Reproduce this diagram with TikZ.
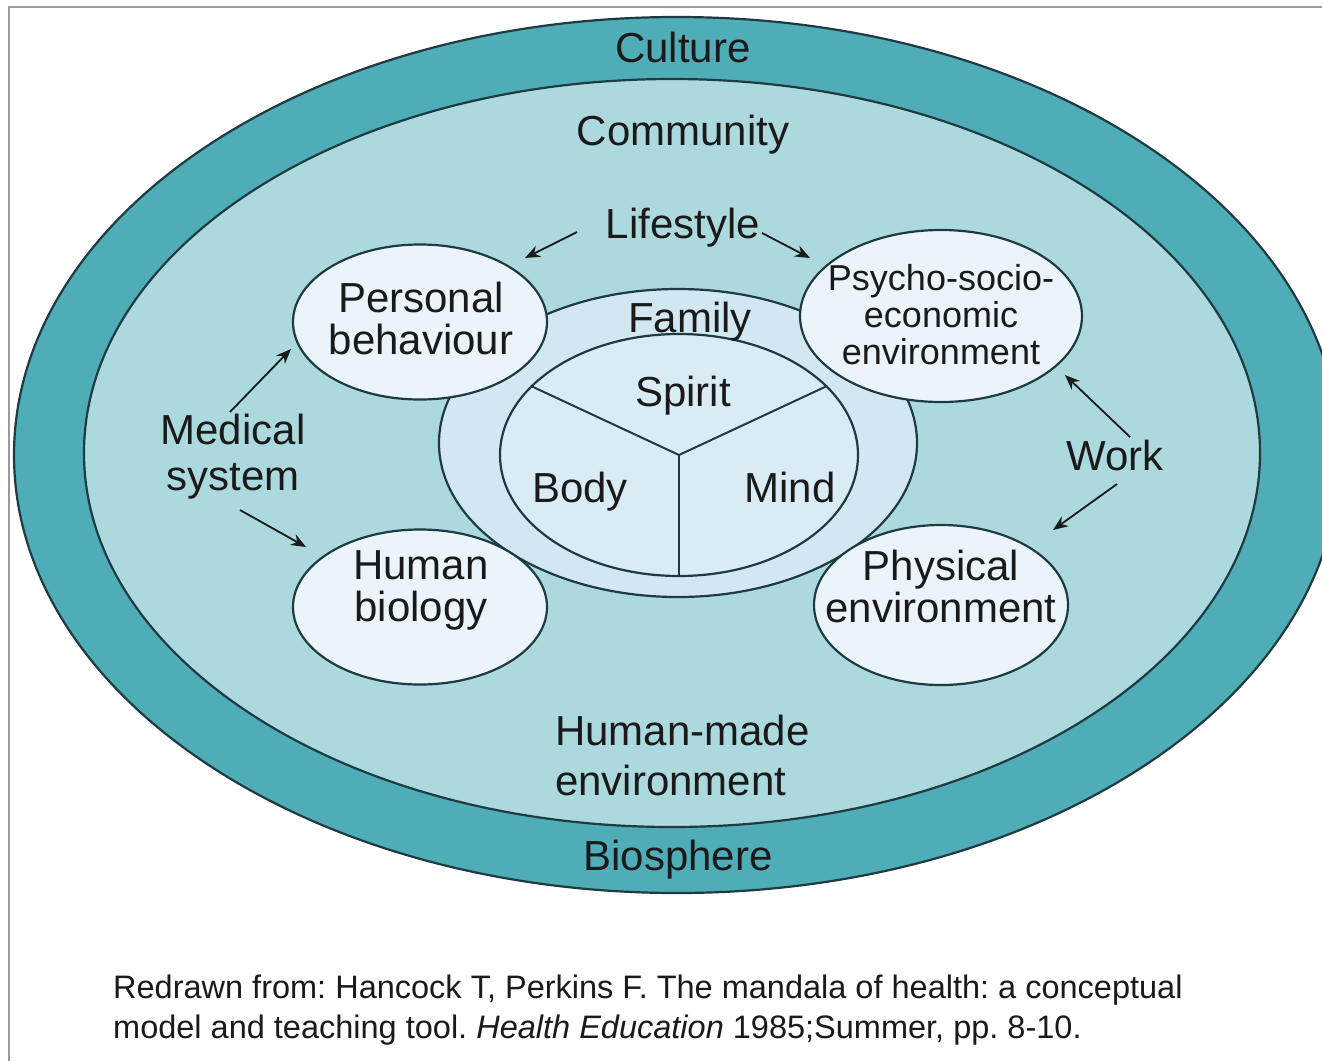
\documentclass[tikz,border=0pt]{standalone}
\usepackage{fontspec}
\setmainfont{Liberation Sans}
\usetikzlibrary{shapes.geometric,arrows.meta}
\definecolor{bandteal}{HTML}{4FADB7}
\definecolor{commfill}{HTML}{ABD9DD}
\definecolor{famfill}{HTML}{D2E7F2}
\definecolor{innerfill}{HTML}{D9EBF5}
\definecolor{satfill}{HTML}{EAF4FA}
\definecolor{edge}{HTML}{1E3B42}
\definecolor{ink}{HTML}{1A1A1A}
\definecolor{framegray}{HTML}{9A9A9A}
\tikzset{
  ring/.style={ellipse, draw=edge, line width=2.2pt, inner sep=0pt},
  sat/.style={ring, fill=satfill, minimum width=254pt, minimum height=155pt},
  lbl/.style={font=\fontsize{42}{42}\selectfont, text=ink, align=center, inner sep=0pt},
  small/.style={font=\fontsize{36}{37}\selectfont, text=ink, align=center, inner sep=0pt},
  arr/.style={>={Stealth[length=15pt,width=12pt]}, ->, line width=1.8pt, draw=ink},
}
\begin{document}
\frenchspacing
\begin{tikzpicture}[x=1pt,y=-1pt]
\clip (0,0) rectangle (1322,1061);
\fill[white] (0,0) rectangle (1322,1061);
\draw[framegray, line width=2pt] (9,1061) -- (9,7) -- (1322,7);
% the rings
\node[ring, fill=bandteal, minimum width=1326pt, minimum height=876pt] (culture) at (677,455) {};
\node[ring, fill=commfill, minimum width=1176pt, minimum height=748pt] (community) at (672,453) {};
\node[ring, fill=famfill, minimum width=478pt, minimum height=308pt] (family) at (678,443) {};
\node[ring, fill=innerfill, minimum width=358pt, minimum height=242pt] (self) at (679,455) {};
\draw[edge, line width=2pt] (self.center) -- (self.155);
\draw[edge, line width=2pt] (self.center) -- (self.25);
\draw[edge, line width=2pt] (self.center) -- (self.south);
% the four ellipses round the family
\node[sat] (behav) at (420,322) {};
\node[sat] (biol) at (420,607) {};
\node[sat, minimum width=282pt, minimum height=172pt] (psych) at (941,316) {};
\node[sat, minimum height=160pt] (phys) at (941,605) {};
% labels
\node[lbl, anchor=base] (cult) at (683,62) {Culture};
\node[lbl, anchor=base] (comm) at (683,145) {Community};
\node[lbl, anchor=base] (life) at (683,238) {Lifestyle};
\node[lbl, anchor=base] (fam) at (690,332) {Family};
\node[lbl, anchor=base] (spirit) at (683,406) {Spirit};
\node[lbl, anchor=base] (body) at (580,502) {Body};
\node[lbl, anchor=base] (mind) at (790,502) {Mind};
\node[lbl, anchor=base] (work) at (1115,470) {Work};
\node[lbl, font=\fontsize{42}{46}\selectfont] (med) at (233,457) {Medical\\system};
\node[lbl] (behavtxt) at (421,318) {Personal\\behaviour};
\node[lbl] (bioltxt) at (421,590) {Human\\biology};
\node[small] (psychtxt) at (941,315) {Psycho-socio-\\economic\\environment};
\node[lbl] (phystxt) at (941,586) {Physical\\environment};
\node[lbl, font=\fontsize{42}{50}\selectfont, align=left, anchor=west] (made) at (555,755) {Human-made\\environment};
\node[lbl, anchor=base] (bios) at (678,870) {Biosphere};
% arrows
\coordinate (lifeL) at (577,232);
\coordinate (lifeR) at (762,233);
\coordinate (behavA) at (525,258);
\coordinate (psychA) at (810,258);
\coordinate (medU) at (230,412);
\coordinate (medD) at (240,510);
\coordinate (behavB) at (291,349);
\coordinate (biolA) at (306,547);
\coordinate (workU) at (1130,437);
\coordinate (workD) at (1117,484);
\coordinate (psychB) at (1065,375);
\coordinate (physA) at (1053,530);
\draw[arr] (lifeL) -- (behavA);
\draw[arr] (lifeR) -- (psychA);
\draw[arr] (medU) -- (behavB);
\draw[arr] (medD) -- (biolA);
\draw[arr] (workU) -- (psychB);
\draw[arr] (workD) -- (physA);
% source line
\node[font=\fontsize{32.5}{40}\selectfont, text=ink, align=left, anchor=north west, inner sep=0pt] (src) at (113,975)
  {Redrawn from: Hancock T, Perkins F. The mandala of health: a conceptual\\model and teaching tool. \textit{Health Education} 1985;Summer, pp. 8-10.};
\end{tikzpicture}
\end{document}
